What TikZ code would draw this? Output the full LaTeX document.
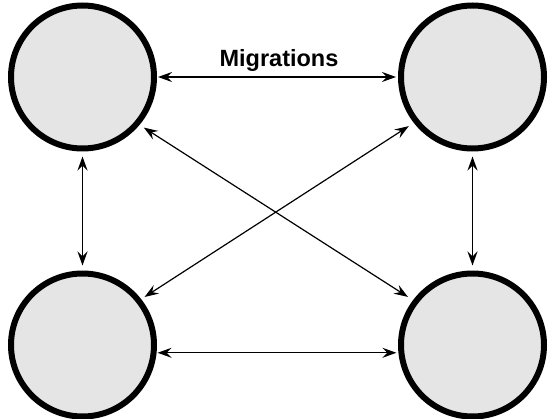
\documentclass[tikz,border=0pt]{standalone}
\usepackage{fontspec}
\setmainfont{Liberation Sans}
\usetikzlibrary{arrows.meta}
\begin{document}
\begin{tikzpicture}[x=1pt,y=1pt,
  pop/.style={circle,draw=black,fill=black!10,line width=6pt,minimum size=143pt,inner sep=0pt},
  mig/.style={{Stealth[length=14pt,width=10pt,inset=5pt]}-{Stealth[length=14pt,width=10pt,inset=5pt]},line width=1.2pt}]
\useasboundingbox (0,0) rectangle (556,418);
\node[pop] (tl) at (82.5,341) {};
\node[pop] (tr) at (472.5,341) {};
\node[pop] (bl) at (82.5,73) {};
\node[pop] (br) at (472.5,73) {};
\draw[mig,shorten <=1pt,shorten >=2pt] (tl.east) -- (tr.west);
\draw[mig,shorten <=1pt,shorten >=2pt] (bl.-6) -- (br.186);
\draw[mig,shorten <=5pt,shorten >=5pt] (tl.south) -- (bl.north);
\draw[mig,shorten <=5pt,shorten >=5pt] (tr.south) -- (br.north);
\draw[mig,shorten <=5pt,shorten >=6pt] (tl.-40) -- (br.143);
\draw[mig,shorten <=6pt,shorten >=4pt] (tr.-142) -- (bl.38);
\node[font=\bfseries,inner sep=0pt,anchor=base] (lab) at (279,351) {\fontsize{23.5}{27}\selectfont Migrations};
\end{tikzpicture}
\end{document}
